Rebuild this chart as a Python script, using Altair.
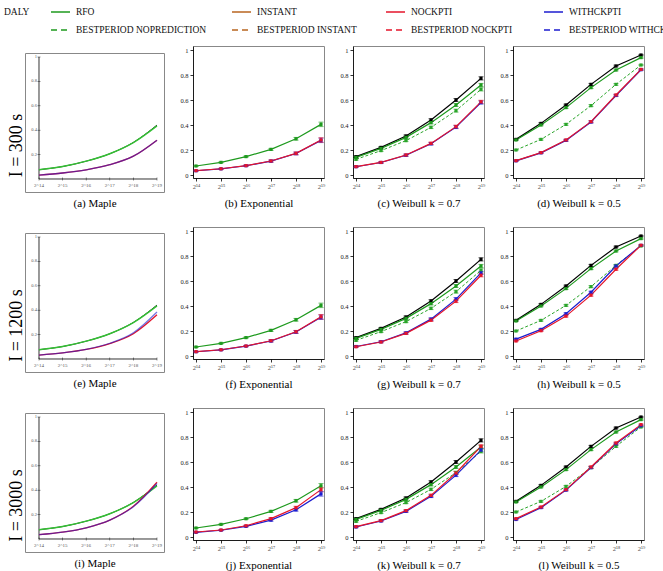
import altair as alt
import pandas as pd

SERIF = "Liberation Serif"

# ---------------- data ----------------
EXPONENTS = [14, 15, 16, 17, 18, 19]
X_TICK_LABELS = ["2¹⁴", "2¹⁵", "2¹⁶", "2¹⁷", "2¹⁸", "2¹⁹"]
MAPLE_X_LABELS = ["2^14", "2^15", "2^16", "2^17", "2^18", "2^19"]
Y_TICKS = [0, 0.2, 0.4, 0.6, 0.8, 1]
MAPLE_Y_TICKS = [0.2, 0.4, 0.6, 0.8, 1]
MAPLE_Y_LABELS = ["0.2", "0.4", "0.6", "0.8", "1"]
ROW_TITLES = ["I = 300 s", "I = 1200 s", "I = 3000 s"]
CAPTIONS_ROW1 = ["(a) Maple", "(b) Exponential", "(c) Weibull k = 0.7", "(d) Weibull k = 0.5"]
CAPTIONS_ROW2 = ["(e) Maple", "(f) Exponential", "(g) Weibull k = 0.7", "(h) Weibull k = 0.5"]
CAPTIONS_ROW3 = ["(i) Maple", "(j) Exponential", "(k) Weibull k = 0.7", "(l) Weibull k = 0.5"]

LEGEND_FIRST = "DALY"
LEGEND_ROW1 = ["RFO", "INSTANT", "NOCKPTI", "WITHCKPTI"]
LEGEND_ROW2 = ["BESTPERIOD NOPREDICTION", "BESTPERIOD INSTANT",
               "BESTPERIOD NOCKPTI", "BESTPERIOD WITHCKPTI"]

# Maple model curves
MAPLE_DALY = [0.076, 0.102, 0.146, 0.207, 0.300, 0.442]
MAPLE_RFO = [0.076, 0.102, 0.146, 0.207, 0.298, 0.435]
A_NOCKPT = [0.032, 0.049, 0.075, 0.117, 0.187, 0.318]
A_WITHCKPT = [0.032, 0.049, 0.075, 0.117, 0.187, 0.318]
E_NOCKPT = [0.032, 0.050, 0.078, 0.126, 0.207, 0.362]
E_WITHCKPT = [0.032, 0.050, 0.079, 0.129, 0.215, 0.385]
I_NOCKPT = [0.035, 0.056, 0.092, 0.155, 0.268, 0.465]
I_WITHCKPT = [0.035, 0.056, 0.092, 0.155, 0.265, 0.455]

# Exponential
EXP_RFO = [0.072, 0.101, 0.147, 0.205, 0.290, 0.405]
B_NOCKPT = [0.035, 0.050, 0.075, 0.112, 0.173, 0.280]
B_WITHCKPT = [0.034, 0.049, 0.074, 0.111, 0.172, 0.277]
F_NOCKPT = [0.035, 0.050, 0.080, 0.122, 0.194, 0.314]
F_WITHCKPT = [0.034, 0.049, 0.079, 0.120, 0.192, 0.310]
J_RFO = [0.072, 0.101, 0.146, 0.205, 0.290, 0.410]
J_NOCKPT = [0.040, 0.056, 0.090, 0.147, 0.235, 0.379]
J_WITHCKPT = [0.037, 0.054, 0.085, 0.135, 0.218, 0.345]

# Weibull k = 0.7
W7_DALY = [0.147, 0.221, 0.312, 0.440, 0.600, 0.773]
W7_RFO = [0.141, 0.213, 0.301, 0.419, 0.560, 0.720]
W7_BP_NOPRED = [0.125, 0.195, 0.275, 0.381, 0.515, 0.685]
C_NOCKPT = [0.067, 0.101, 0.160, 0.253, 0.387, 0.585]
C_WITHCKPT = [0.066, 0.100, 0.158, 0.250, 0.383, 0.580]
G_NOCKPT = [0.074, 0.112, 0.181, 0.287, 0.439, 0.646]
G_WITHCKPT = [0.076, 0.114, 0.185, 0.295, 0.455, 0.665]
K_NOCKPT = [0.083, 0.131, 0.211, 0.333, 0.512, 0.725]
K_WITHCKPT = [0.080, 0.128, 0.205, 0.325, 0.495, 0.695]

# Weibull k = 0.5
W5_DALY = [0.285, 0.413, 0.560, 0.725, 0.872, 0.960]
W5_RFO = [0.280, 0.400, 0.539, 0.699, 0.840, 0.939]
W5_BP_NOPRED = [0.200, 0.285, 0.405, 0.555, 0.725, 0.880]
D_NOCKPT = [0.115, 0.179, 0.280, 0.427, 0.640, 0.845]
D_WITHCKPT = [0.113, 0.177, 0.277, 0.424, 0.636, 0.842]
H_NOCKPT = [0.120, 0.202, 0.319, 0.487, 0.694, 0.886]
H_WITHCKPT = [0.135, 0.213, 0.338, 0.510, 0.720, 0.885]
L_NOCKPT = [0.147, 0.240, 0.379, 0.560, 0.752, 0.899]
L_WITHCKPT = [0.140, 0.235, 0.375, 0.555, 0.745, 0.890]

# error-bar half widths
ERR_EXP = [0.003, 0.004, 0.005, 0.008, 0.011, 0.018]
ERR_W7 = [0.006, 0.007, 0.008, 0.010, 0.012, 0.013]
ERR_W5 = [0.005, 0.006, 0.007, 0.008, 0.007, 0.005]

# ---------------- styles ----------------
GREEN = "#1e9a1e"
GREEN_D = "#2aa52a"
MAPLE_GREEN = "#33c033"
BLACK = "#000000"
RED = "#e5152b"
BLUE = "#1c1ccf"
BROWN = "#b8651f"

X_LABEL_EXPR = "[" + ",".join("'%s'" % s for s in X_TICK_LABELS) + "][datum.value - %d]" % EXPONENTS[0]
Y_LABEL_EXPR = "datum.value == 0 ? '0' : (datum.value == 1 ? '1' : format(datum.value, '.1f'))"

X_SCALE = alt.Scale(domain=[13.88, 19.12], nice=False, zero=False)
Y_SCALE = alt.Scale(domain=[-0.024, 1.032], nice=False, zero=False)
MX_SCALE = alt.Scale(domain=[13.407, 19.297], nice=False, zero=False)
MY_SCALE = alt.Scale(domain=[-0.1066, 1.0328], nice=False, zero=False)

PANEL_W = 131
PANEL_H = 132
MAPLE_W = 139
MAPLE_H = 139


def reg_x_axis(caption):
    return alt.Axis(values=EXPONENTS, labelExpr=X_LABEL_EXPR, title=caption, grid=False,
                    tickSize=3, tickColor="black", tickWidth=0.8, domainColor="black",
                    domainWidth=0.8, labelPadding=2, labelFontSize=6.5, labelColor="#555",
                    labelFont=SERIF, labelFlush=False, titleFont=SERIF, titleFontSize=11,
                    titleFontWeight="normal", titleColor="black", titlePadding=8)


REG_Y_AXIS = alt.Axis(values=Y_TICKS, labelExpr=Y_LABEL_EXPR, title=None, grid=False,
                      tickSize=3, tickColor="black", tickWidth=0.8, domainColor="black",
                      domainWidth=0.8, labelPadding=2, labelFontSize=6.5, labelColor="#222",
                      labelFont=SERIF, labelFlush=False)


def regular_panel(series, caption):
    xa = reg_x_axis(caption)

    def X(f):
        return alt.X(f + ":Q", scale=X_SCALE, axis=xa)

    def Y(f):
        return alt.Y(f + ":Q", scale=Y_SCALE, axis=REG_Y_AXIS)

    layers = []
    rows = []
    for vals, errs, color, dashed in series:
        df = pd.DataFrame({"exp": EXPONENTS, "val": vals})
        mk = dict(color=color, strokeWidth=1.2)
        if dashed:
            mk["strokeDash"] = [3, 2]
            mk["strokeWidth"] = 1.0
        layers.append(alt.Chart(df).mark_line(**mk).encode(x=X("exp"), y=Y("val")))
        for e, v, er in zip(EXPONENTS, vals, errs):
            rows.append({"exp": e, "val": v, "lo": v - er, "hi": v + er, "color": color})
    pdf = pd.DataFrame(rows)
    base = alt.Chart(pdf)
    col = alt.Color("color:N", scale=None)
    rules = base.mark_rule(strokeWidth=0.9).encode(x=X("exp"), y=Y("lo"), y2="hi:Q", color=col)
    cap_lo = base.mark_tick(orient="horizontal", size=5, thickness=0.9).encode(
        x=X("exp"), y=Y("lo"), color=col)
    cap_hi = base.mark_tick(orient="horizontal", size=5, thickness=0.9).encode(
        x=X("exp"), y=Y("hi"), color=col)
    pts = base.mark_point(shape="square", filled=True, size=10, opacity=1).encode(
        x=X("exp"), y=Y("val"), color=col)
    return alt.layer(*layers, rules, cap_lo, cap_hi, pts).properties(
        width=PANEL_W, height=PANEL_H,
        view=alt.ViewBackground(stroke="#888888", strokeWidth=1))


def maple_panel(series, caption, row_title):
    xa = alt.Axis(title=caption, labels=False, ticks=False, domain=False, grid=False,
                  titleFont=SERIF, titleFontSize=11, titleFontWeight="normal",
                  titleColor="black", titlePadding=5)
    ya = alt.Axis(title=row_title, labels=False, ticks=False, domain=False, grid=False,
                  titleFont=SERIF, titleFontSize=18, titleFontWeight="normal",
                  titleColor="black", titleAngle=270, titleX=-4, titleY=92,
                  titleAlign="center", titleBaseline="alphabetic")

    def X(f):
        return alt.X(f + ":Q", scale=MX_SCALE, axis=xa)

    def Y(f):
        return alt.Y(f + ":Q", scale=MY_SCALE, axis=ya)

    yaxis_df = pd.DataFrame({"exp": [EXPONENTS[0]], "val": [Y_TICKS[0]], "top": [Y_TICKS[-1]]})
    xaxis_df = pd.DataFrame({"exp": [EXPONENTS[0]], "end": [EXPONENTS[-1]], "val": [Y_TICKS[0]]})
    xlab_df = pd.DataFrame({"exp": EXPONENTS, "val": [Y_TICKS[0]] * len(EXPONENTS),
                            "lab": MAPLE_X_LABELS})
    ylab_df = pd.DataFrame({"exp": [EXPONENTS[0]] * len(MAPLE_Y_TICKS), "val": MAPLE_Y_TICKS,
                            "lab": MAPLE_Y_LABELS})

    layers = [
        alt.Chart(yaxis_df).mark_rule(color="black", strokeWidth=0.8).encode(
            x=X("exp"), y=Y("val"), y2="top:Q"),
        alt.Chart(xaxis_df).mark_rule(color="black", strokeWidth=0.8).encode(
            x=X("exp"), x2="end:Q", y=Y("val")),
        alt.Chart(xlab_df).mark_tick(orient="vertical", size=3, thickness=0.6, color="black").encode(
            x=X("exp"), y=Y("val")),
        alt.Chart(ylab_df).mark_tick(orient="horizontal", size=3, thickness=0.6, color="black").encode(
            x=X("exp"), y=Y("val")),
        alt.Chart(xlab_df).mark_text(dy=6, fontSize=5, color="#555", font=SERIF).encode(
            x=X("exp"), y=Y("val"), text="lab:N"),
        alt.Chart(ylab_df).mark_text(align="right", dx=-2, fontSize=4.5, color="#555",
                                     font=SERIF).encode(x=X("exp"), y=Y("val"), text="lab:N"),
    ]
    for vals, color, opacity, width in series:
        df = pd.DataFrame({"exp": EXPONENTS, "val": vals})
        layers.append(alt.Chart(df).mark_line(interpolate="monotone", color=color,
                                              strokeWidth=width, opacity=opacity).encode(
            x=X("exp"), y=Y("val")))
    return alt.layer(*layers).properties(
        width=MAPLE_W, height=MAPLE_H,
        view=alt.ViewBackground(stroke="#888888", strokeWidth=1))


def spacer(w, h):
    return alt.Chart(pd.DataFrame({"s": [""]})).mark_text().encode(text="s:N").properties(
        width=w, height=h)


# ---------------- panels ----------------
def maple_series(no, wi):
    return [(MAPLE_DALY, BLACK, 1, 0.9), (MAPLE_RFO, MAPLE_GREEN, 1, 1.4),
            (no, RED, 1, 1.3), (wi, BLUE, 0.6, 1.3)]


maple_a = maple_panel(maple_series(A_NOCKPT, A_WITHCKPT), CAPTIONS_ROW1[0], ROW_TITLES[0])
maple_e = maple_panel(maple_series(E_NOCKPT, E_WITHCKPT), CAPTIONS_ROW2[0], ROW_TITLES[1])
maple_i = maple_panel(maple_series(I_NOCKPT, I_WITHCKPT), CAPTIONS_ROW3[0], ROW_TITLES[2])

pan_b = regular_panel([(B_WITHCKPT, ERR_EXP, BLUE, False), (B_NOCKPT, ERR_EXP, RED, False),
                       (EXP_RFO, ERR_EXP, GREEN, False)], CAPTIONS_ROW1[1])
pan_f = regular_panel([(F_WITHCKPT, ERR_EXP, BLUE, False), (F_NOCKPT, ERR_EXP, RED, False),
                       (EXP_RFO, ERR_EXP, GREEN, False)], CAPTIONS_ROW2[1])
pan_j = regular_panel([(J_WITHCKPT, ERR_EXP, BLUE, False), (J_NOCKPT, ERR_EXP, RED, False),
                       (J_RFO, ERR_EXP, GREEN, False)], CAPTIONS_ROW3[1])


def w7(no, wi, cap):
    return regular_panel([(W7_DALY, ERR_W7, BLACK, False), (W7_BP_NOPRED, ERR_W7, GREEN_D, True),
                          (W7_RFO, ERR_W7, GREEN, False), (wi, ERR_W7, BLUE, False),
                          (no, ERR_W7, RED, False)], cap)


def w5(no, wi, cap):
    return regular_panel([(W5_DALY, ERR_W5, BLACK, False), (W5_BP_NOPRED, ERR_W5, GREEN_D, True),
                          (W5_RFO, ERR_W5, GREEN, False), (wi, ERR_W5, BLUE, False),
                          (no, ERR_W5, RED, False)], cap)


pan_c = w7(C_NOCKPT, C_WITHCKPT, CAPTIONS_ROW1[2])
pan_g = w7(G_NOCKPT, G_WITHCKPT, CAPTIONS_ROW2[2])
pan_k = w7(K_NOCKPT, K_WITHCKPT, CAPTIONS_ROW3[2])
pan_d = w5(D_NOCKPT, D_WITHCKPT, CAPTIONS_ROW1[3])
pan_h = w5(H_NOCKPT, H_WITHCKPT, CAPTIONS_ROW2[3])
pan_l = w5(L_NOCKPT, L_WITHCKPT, CAPTIONS_ROW3[3])

# ---------------- legend ----------------
LEG_W, LEG_H = 663, 40
LEG_COL_X = [51, 232, 386, 544]
LEG_ROW_Y = [12, 30]
LEG_LINE_LEN = 19
LEG_TEXT_GAP = 25
LEG_COLORS = [GREEN, BROWN, RED, BLUE]

solid_df = pd.DataFrame({"x": LEG_COL_X, "x2": [v + LEG_LINE_LEN for v in LEG_COL_X],
                         "y": [LEG_ROW_Y[0]] * 4, "color": LEG_COLORS})
dash_df = pd.DataFrame({"x": LEG_COL_X, "x2": [v + LEG_LINE_LEN for v in LEG_COL_X],
                        "y": [LEG_ROW_Y[1]] * 4, "color": LEG_COLORS})
text_df = pd.DataFrame({
    "x": [4] + [v + LEG_TEXT_GAP for v in LEG_COL_X] + [v + LEG_TEXT_GAP for v in LEG_COL_X],
    "y": [LEG_ROW_Y[0]] * 5 + [LEG_ROW_Y[1]] * 4,
    "t": [LEGEND_FIRST] + LEGEND_ROW1 + LEGEND_ROW2,
})
LX = alt.Scale(domain=[0, LEG_W], nice=False, zero=False)
LY = alt.Scale(domain=[0, LEG_H], nice=False, zero=False, reverse=True)
leg_solid = alt.Chart(solid_df).mark_rule(strokeWidth=1.5).encode(
    x=alt.X("x:Q", scale=LX, axis=None), x2="x2:Q", y=alt.Y("y:Q", scale=LY, axis=None),
    color=alt.Color("color:N", scale=None))
leg_dash = alt.Chart(dash_df).mark_rule(strokeWidth=1.5, strokeDash=[6, 4]).encode(
    x=alt.X("x:Q", scale=LX, axis=None), x2="x2:Q", y=alt.Y("y:Q", scale=LY, axis=None),
    color=alt.Color("color:N", scale=None))
leg_text = alt.Chart(text_df).mark_text(align="left", baseline="middle", fontSize=9.5,
                                        font=SERIF, color="#111", clip=True).encode(
    x=alt.X("x:Q", scale=LX, axis=None), y=alt.Y("y:Q", scale=LY, axis=None), text="t:N")
legend = alt.layer(leg_solid, leg_dash, leg_text).properties(width=LEG_W, height=LEG_H)

# ---------------- layout ----------------
# In a "flush" concat, a nested concat counts as zero-sized, so the spacing
# between nested columns equals the distance between their left edges.
maple_col = alt.vconcat(spacer(MAPLE_W, 1),
                        alt.vconcat(maple_a, maple_e, maple_i, spacing=41, bounds="flush"),
                        spacing=6, bounds="flush")
b_col = alt.vconcat(pan_b, pan_f, pan_j, spacing=49, bounds="flush")
c_col = alt.vconcat(pan_c, pan_g, pan_k, spacing=49, bounds="flush")
d_col = alt.vconcat(pan_d, pan_h, pan_l, spacing=49, bounds="flush")
rest = alt.hconcat(b_col, c_col, d_col, spacing=160, bounds="flush")
inner = alt.hconcat(maple_col, rest, spacing=168, bounds="flush")
grid = alt.hconcat(spacer(1, 1), inner, spacing=24, bounds="flush")

chart = alt.vconcat(legend, grid, spacing=6, bounds="flush").properties(
    padding=0, background="white"
).configure(font=SERIF).configure_view(stroke=None)

chart.save("out.html", embed_options={"renderer": "svg", "actions": False})
